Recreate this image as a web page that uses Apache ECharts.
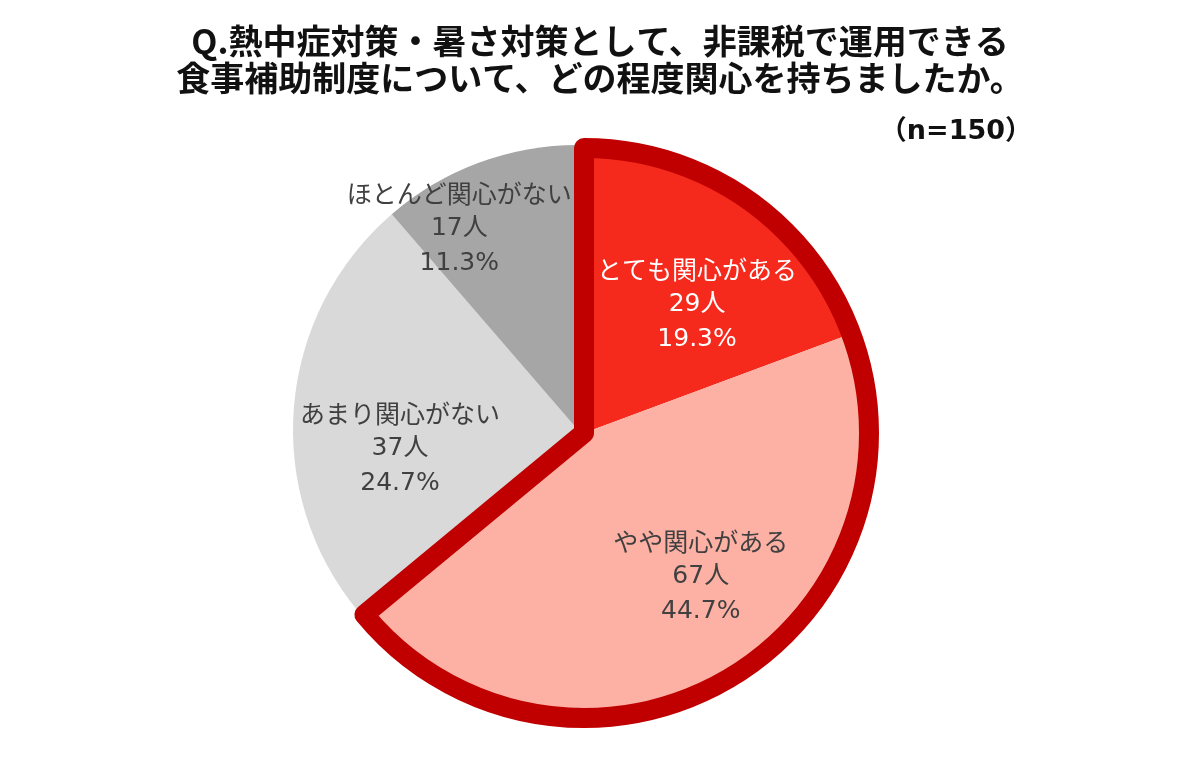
<!DOCTYPE html>
<html>
<head>
<meta charset="utf-8">
<script src="https://cdn.jsdelivr.net/npm/echarts@6/dist/echarts.min.js"></script>
<style>
  html, body { margin: 0; padding: 0; background: #fff; }
  #chart { width: 1200px; height: 780px; }
</style>
</head>
<body>
<div id="chart"></div>
<script>
// 回答データ（n=150）
const categories = ["とても関心がある", "やや関心がある", "あまり関心がない", "ほとんど関心がない"];
const counts = [29, 67, 37, 17];
const sampleSize = 150;
// 関心あり（赤枠で囲むグループ）
const interested = [true, true, false, false];

const colors = ["#f5291c", "#fdb0a4", "#d9d9d9", "#a6a6a6"];
const labelColors = ["#ffffff", "#404040", "#404040", "#404040"];
const labelOffsets = [[30, -9], [44, 17], [-33, 31], [-68, -65]];

const FONT = "'Noto Sans CJK JP', 'Noto Sans', sans-serif";
const NUM_FONT = "'DejaVu Sans', 'Noto Sans CJK JP', sans-serif";
const R = 285;
const center = [578, 430];
const shifted = [584, 433]; // 関心ありグループは少し右下にずらす

let mycharts = echarts.init(document.getElementById("chart"));

function pct(v) {
  return (v / sampleSize * 100).toFixed(1) + "%";
}

// group: true -> 赤系のみ描く, false -> 灰色系のみ描く
function buildData(group) {
  return categories.map((name, i) => {
    let show = interested[i] === group;
    return {
      name: name,
      value: counts[i],
      itemStyle: {
        color: show ? colors[i] : "transparent",
        borderWidth: 0,
      },
      label: {
        show: show,
        color: labelColors[i],
        offset: labelOffsets[i],
      },
    };
  });
}

let labelBase = {
  position: "inside",
  fontFamily: NUM_FONT,
  fontSize: 25,
  lineHeight: 35,
  formatter: (p) => `{t|${p.name}}\n${p.value}人\n${pct(p.value)}`,
  rich: {
    t: { fontFamily: FONT, fontSize: 25, lineHeight: 35 },
  },
};

// 赤枠用：関心あり合計とそれ以外
let outlineTotal = counts.filter((c, i) => interested[i]).reduce((a, b) => a + b, 0);
let outlineData = [
  {
    value: outlineTotal,
    itemStyle: {
      color: "transparent",
      borderColor: "#c00000",
      borderWidth: 20,
      borderJoin: "round",
    },
  },
  {
    value: sampleSize - outlineTotal,
    itemStyle: { color: "transparent", borderWidth: 0 },
  },
];

let option = {
  backgroundColor: "#ffffff",
  title: [
    {
      text: "Q.熱中症対策・暑さ対策として、非課税で運用できる\n食事補助制度について、どの程度関心を持ちましたか。",
      left: "center",
      top: 18,
      textStyle: {
        fontFamily: FONT,
        fontSize: 34,
        fontWeight: "bold",
        color: "#111111",
        lineHeight: 37,
      },
    },
    {
      text: "（n=150）",
      right: 163,
      top: 113,
      textStyle: {
        fontFamily: NUM_FONT,
        fontSize: 27,
        fontWeight: "bold",
        color: "#111111",
      },
    },
  ],
  series: [
    {
      name: "関心なし",
      type: "pie",
      startAngle: 90,
      clockwise: true,
      center: center,
      radius: [0, R],
      silent: true,
      animation: false,
      label: labelBase,
      labelLine: { show: false },
      data: buildData(false),
    },
    {
      name: "関心あり",
      type: "pie",
      startAngle: 90,
      clockwise: true,
      center: shifted,
      radius: [0, R],
      silent: true,
      animation: false,
      label: labelBase,
      labelLine: { show: false },
      data: buildData(true),
    },
    {
      name: "赤枠",
      type: "pie",
      startAngle: 90,
      clockwise: true,
      center: shifted,
      radius: [0, R],
      silent: true,
      animation: false,
      label: { show: false },
      labelLine: { show: false },
      data: outlineData,
    },
  ],
};
mycharts.setOption(option);
</script>
</body>
</html>
